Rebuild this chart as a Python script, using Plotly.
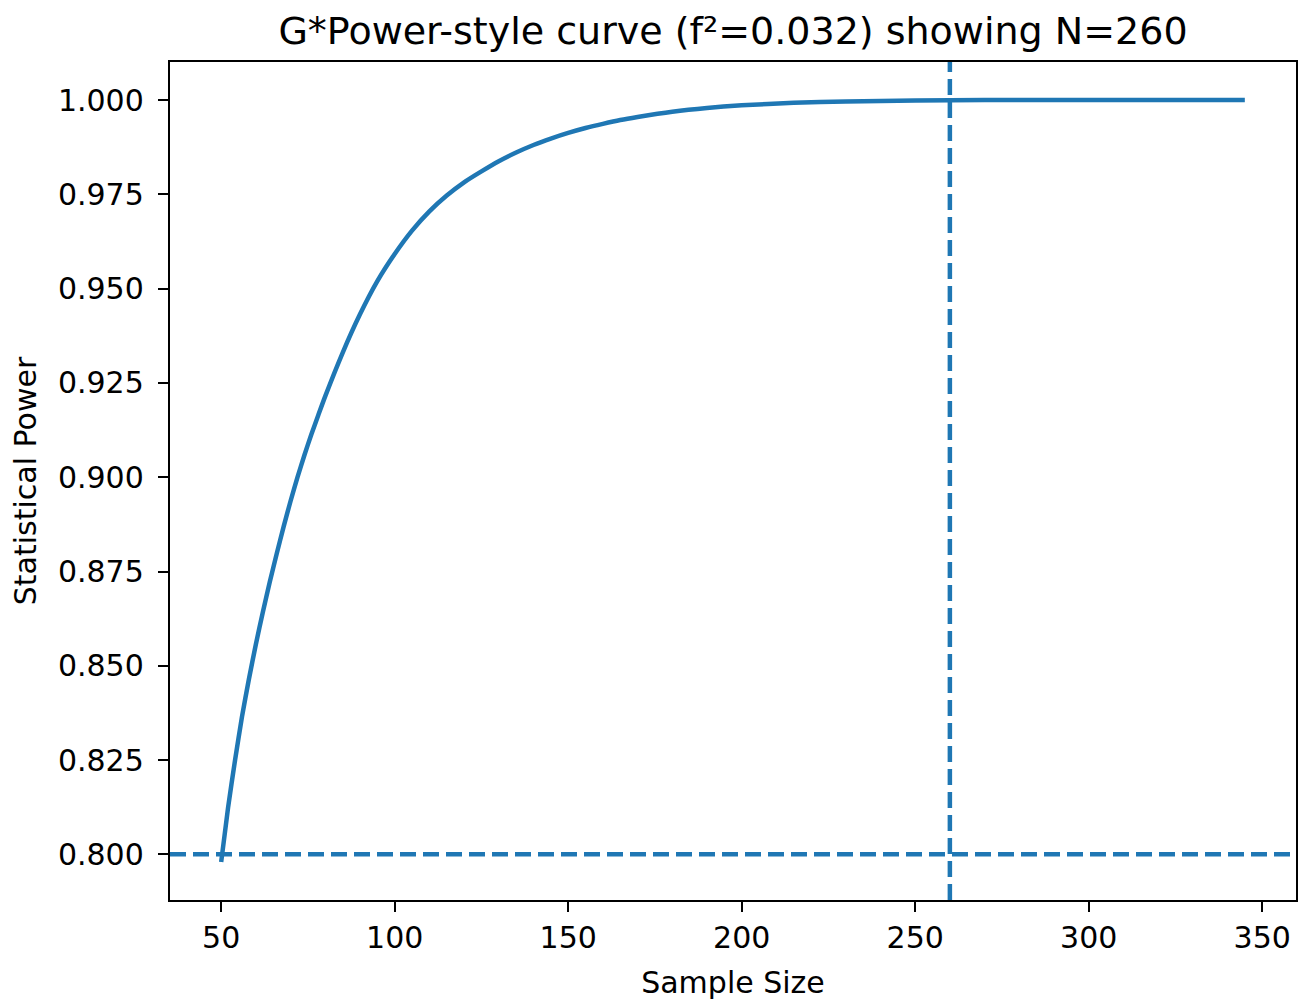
import plotly.graph_objects as go

# power curve (sample size -> power)
sample_size = [50, 52, 54, 56, 58, 60, 62, 64, 66, 68, 70, 72, 74, 76, 78, 80,
               85, 90, 95, 100, 105, 110, 115, 120, 125, 130, 135, 140, 145, 150,
               155, 160, 165, 170, 180, 190, 200, 215, 230, 250, 270, 300, 345]
power = [0.798, 0.8125, 0.825, 0.8365, 0.8465, 0.8557, 0.8642, 0.8722, 0.8797,
         0.8869, 0.8937, 0.9, 0.9059, 0.9114, 0.9165, 0.9215,
         0.933, 0.9432, 0.952, 0.9592, 0.9654, 0.9705, 0.9747, 0.9782, 0.9811,
         0.9838, 0.9861, 0.9881, 0.9898, 0.9913,
         0.9926, 0.9937, 0.9947, 0.9955, 0.9969, 0.9979, 0.9986, 0.9993, 0.9996,
         0.9999, 1.0, 1.0, 1.0]

POWER_TARGET = 0.80
N_SHOW = 260
F2 = 0.032

x_ticks = [50, 100, 150, 200, 250, 300, 350]
y_ticks = [0.800, 0.825, 0.850, 0.875, 0.900, 0.925, 0.950, 0.975, 1.000]

BLUE = "#1f77b4"
FONT = "DejaVu Sans"

fig = go.Figure()

fig.add_trace(go.Scatter(
    x=sample_size,
    y=power,
    mode="lines",
    line=dict(color=BLUE, width=4.5, shape="spline", smoothing=0.6),
    showlegend=False
))

fig.add_hline(y=POWER_TARGET, line=dict(color=BLUE, width=4.5, dash="16px,7px"))
fig.add_vline(x=N_SHOW, line=dict(color=BLUE, width=4.5, dash="16px,7px"))

axis_style = dict(
    showgrid=False,
    zeroline=False,
    showline=True,
    mirror=True,
    linecolor="black",
    linewidth=2.4,
    ticks="outside",
    ticklen=10,
    tickwidth=2,
    tickcolor="black",
    tickfont=dict(family=FONT, size=30, color="black"),
)

# the page puts the plot 8px in from the top-left corner, so size and
# margins are trimmed by that much
fig.update_layout(
    width=1301,
    height=997,
    paper_bgcolor="white",
    plot_bgcolor="white",
    margin=dict(l=160, r=11, t=54, b=100),
    title=dict(
        text=f"G*Power-style curve (f²={F2}) showing N={N_SHOW}",
        x=0.5, xref="paper", xanchor="center",
        y=1 - 23 / 997, yref="container", yanchor="middle",
        font=dict(family=FONT, size=38, color="black"),
    ),
    xaxis=dict(
        axis_style,
        range=[35.25, 359.75],
        tickvals=x_ticks,
        ticktext=[str(v) for v in x_ticks],
        ticklabelstandoff=0,
        title=dict(text="Sample Size", standoff=18,
                   font=dict(family=FONT, size=30, color="black")),
    ),
    yaxis=dict(
        axis_style,
        range=[0.7879, 1.0101],
        tickvals=y_ticks,
        ticktext=[f"{v:.3f}" for v in y_ticks],
        ticklabelstandoff=8,
        title=dict(text="Statistical Power", standoff=18,
                   font=dict(family=FONT, size=30, color="black")),
    ),
)

fig.write_html("out.html")
